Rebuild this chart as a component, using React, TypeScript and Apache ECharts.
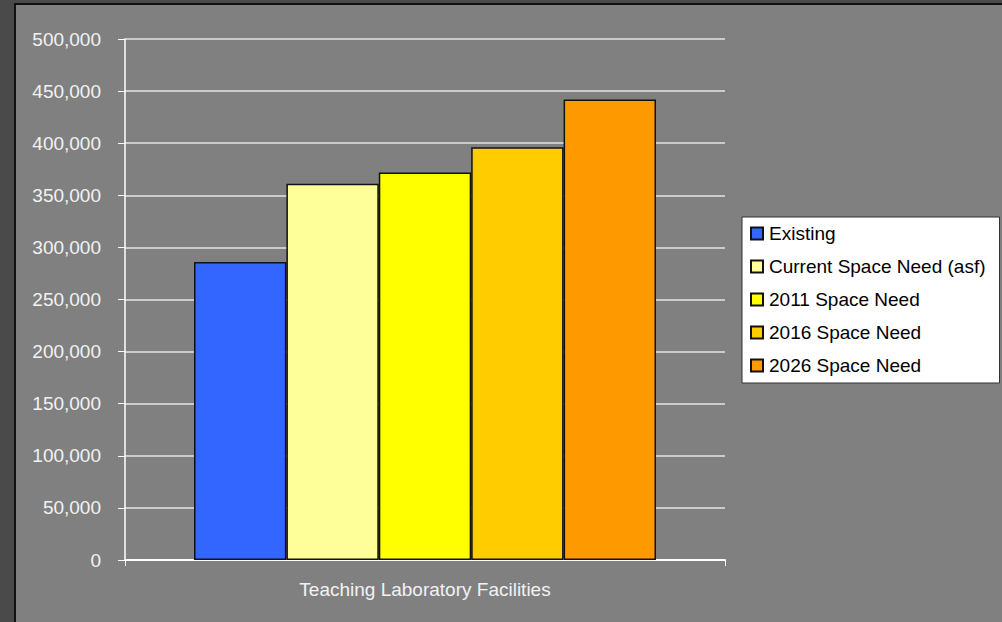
import React, { useEffect, useRef } from "react";
import * as echarts from "echarts";

const categories = ["Teaching Laboratory Facilities"];
const seriesNames = [
  "Existing",
  "Current Space Need (asf)",
  "2011 Space Need",
  "2016 Space Need",
  "2026 Space Need",
];
const seriesValues = [286000, 361000, 372000, 396000, 442000];
const seriesColors = ["#3366FF", "#FFFF99", "#FFFF00", "#FFCC00", "#FF9900"];
const yMin = 0;
const yMax = 500000;
const yInterval = 50000;

const FONT = "'Liberation Sans', Arial, sans-serif";

export default function App() {
  const ref = useRef<HTMLDivElement>(null);

  useEffect(() => {
    if (!ref.current) return;
    const chart = echarts.init(ref.current, undefined, { renderer: "svg" });
    chart.setOption({
      animation: false,
      backgroundColor: "transparent",
      textStyle: { fontFamily: FONT },
      grid: { left: 125, right: 277, top: 39, bottom: 62, containLabel: false },
      legend: {
        orient: "vertical",
        left: 742,
        top: 217,
        backgroundColor: "#ffffff",
        borderColor: "#333333",
        borderWidth: 1,
        padding: [7, 14, 8, 8],
        itemWidth: 12,
        itemHeight: 12,
        itemGap: 14,
        icon: "rect",
        textStyle: { color: "#000000", fontSize: 19, fontFamily: FONT, padding: [0, 0, 0, 1] },
        data: seriesNames,
      },
      xAxis: {
        type: "category",
        data: categories,
        axisLine: { show: true, lineStyle: { color: "#ffffff", width: 2 } },
        axisTick: { show: true, length: 6, lineStyle: { color: "#ffffff" } },
        axisLabel: { color: "#f2f2f2", fontSize: 19, margin: 20, fontFamily: FONT },
        splitLine: { show: false },
      },
      yAxis: {
        type: "value",
        min: yMin,
        max: yMax,
        interval: yInterval,
        axisLine: { show: true, lineStyle: { color: "#ffffff", width: 1.5 } },
        axisTick: { show: true, length: 7, lineStyle: { color: "#ffffff" } },
        axisLabel: {
          color: "#f2f2f2",
          fontSize: 19,
          margin: 24,
          fontFamily: FONT,
          formatter: (v: number) => v.toLocaleString("en-US"),
        },
        splitLine: { show: true, lineStyle: { color: "#e4e4e4", width: 1.5 } },
      },
      series: seriesNames.map((name, i) => ({
        name,
        type: "bar",
        barGap: "0%",
        barCategoryGap: "23%",
        itemStyle: { color: seriesColors[i], borderColor: "#111111", borderWidth: 1.5 },
        data: [seriesValues[i]],
      })),
    });
    return () => chart.dispose();
  }, []);

  return (
    <div
      style={{
        position: "absolute",
        left: 0,
        top: 0,
        width: 1002,
        height: 622,
        background: "#4a4a4a",
        overflow: "hidden",
      }}
    >
      <div
        style={{
          position: "absolute",
          left: 14,
          top: 3,
          width: 1000,
          height: 630,
          background: "#808080",
          borderLeft: "2px solid #111111",
          borderTop: "2px solid #111111",
        }}
      />
      <div ref={ref} style={{ position: "absolute", left: 0, top: 0, width: 1002, height: 622 }} />
    </div>
  );
}
